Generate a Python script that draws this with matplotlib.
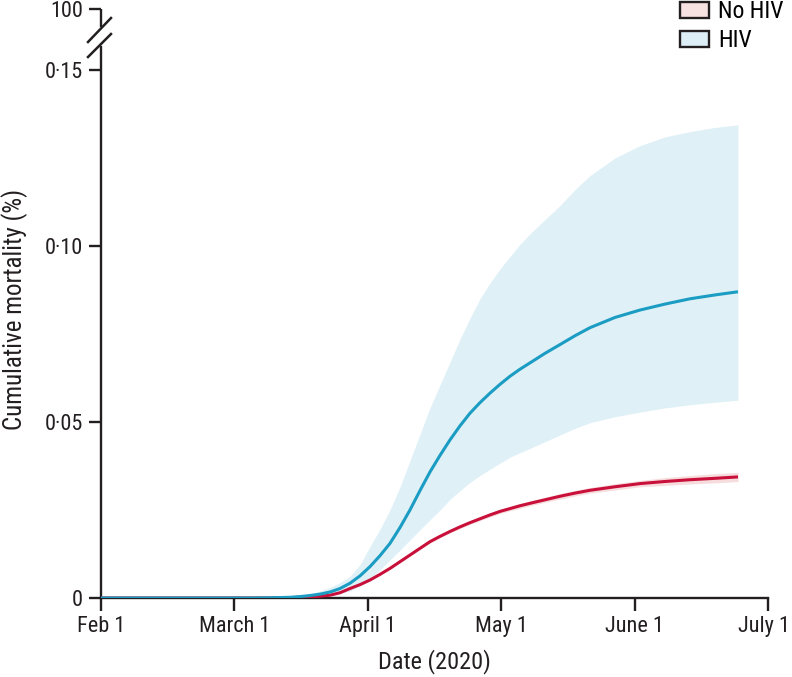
import matplotlib
matplotlib.use("Agg")
import matplotlib.pyplot as plt
import matplotlib.transforms as mtransforms
from matplotlib.patches import Patch
from matplotlib.lines import Line2D
from matplotlib import font_manager as fm

available = {f.name for f in fm.fontManager.ttflist}
candidates = ['Roboto Condensed', 'Liberation Sans Narrow', 'PT Sans Narrow',
              'Archivo Narrow', 'Open Sans Condensed', 'Lato']
fams = [c for c in candidates if c in available] + ['DejaVu Sans']
plt.rcParams['font.family'] = fams

# x positions in months since Feb 1, 2020 (ticks are evenly spaced per month)
months = [0, 1.117, 1.267, 1.417, 1.492, 1.567, 1.642, 1.717, 1.792, 1.867,
          1.942, 2.016, 2.091, 2.166, 2.241, 2.316, 2.391, 2.466, 2.541, 2.616,
          2.691, 2.766, 2.841, 2.916, 2.991, 3.066, 3.141, 3.216, 3.328, 3.441,
          3.553, 3.666, 3.853, 4.040, 4.228, 4.415, 4.603, 4.775]

hiv_mid = [0, 0, 0.00005, 0.0002, 0.0004, 0.0007, 0.0011, 0.0017, 0.0027, 0.0042,
           0.0063, 0.0089, 0.0120, 0.0155, 0.0200, 0.0250, 0.0305, 0.0358, 0.0405, 0.0449,
           0.0489, 0.0525, 0.0555, 0.0582, 0.0607, 0.0630, 0.0650, 0.0668, 0.0695, 0.0720,
           0.0745, 0.0768, 0.0797, 0.0818, 0.0835, 0.0850, 0.0861, 0.0870]
hiv_hi = [0, 0, 0.0001, 0.0004, 0.0007, 0.0012, 0.0020, 0.0030, 0.0044, 0.0062,
          0.0095, 0.0146, 0.0195, 0.0250, 0.0315, 0.0390, 0.0465, 0.0540, 0.0605, 0.0670,
          0.0735, 0.0795, 0.0850, 0.0895, 0.0935, 0.0970, 0.1005, 0.1035, 0.1075, 0.1115,
          0.1160, 0.1200, 0.1250, 0.1285, 0.1310, 0.1325, 0.1337, 0.1344]
hiv_lo = [0, 0, 0, 0.0001, 0.0002, 0.0003, 0.0005, 0.0008, 0.0013, 0.0020,
          0.0035, 0.0055, 0.0080, 0.0108, 0.0136, 0.0165, 0.0194, 0.0222, 0.0250, 0.0280,
          0.0305, 0.0328, 0.0348, 0.0366, 0.0383, 0.0400, 0.0413, 0.0425, 0.0444, 0.0463,
          0.0482, 0.0498, 0.0515, 0.0528, 0.0540, 0.0549, 0.0556, 0.0562]

nohiv_mid = [0, 0, 0, 0.0001, 0.0002, 0.0003, 0.0005, 0.0008, 0.0015, 0.0027,
             0.0038, 0.0051, 0.0067, 0.0084, 0.0103, 0.0122, 0.0141, 0.0160, 0.0175, 0.0189,
             0.0202, 0.0214, 0.0225, 0.0236, 0.0246, 0.0254, 0.0262, 0.0269, 0.0279, 0.0289,
             0.0298, 0.0306, 0.0316, 0.0325, 0.0331, 0.0336, 0.0340, 0.0344]
nohiv_hi = [0, 0, 0, 0.0001, 0.00025, 0.00035, 0.00055, 0.00085, 0.0016, 0.0028,
            0.0039, 0.0053, 0.0069, 0.0086, 0.0106, 0.0125, 0.0144, 0.0164, 0.0179, 0.0193,
            0.0207, 0.0219, 0.0230, 0.0242, 0.0252, 0.0260, 0.0269, 0.0276, 0.0286, 0.0297,
            0.0306, 0.0314, 0.0325, 0.0334, 0.0342, 0.0348, 0.0353, 0.0357]
nohiv_lo = [0, 0, 0, 0.0001, 0.00015, 0.00025, 0.00045, 0.00075, 0.0014, 0.0026,
            0.0037, 0.0049, 0.0065, 0.0082, 0.0100, 0.0119, 0.0138, 0.0156, 0.0171, 0.0185,
            0.0197, 0.0209, 0.0220, 0.0230, 0.0240, 0.0248, 0.0255, 0.0262, 0.0272, 0.0281,
            0.0290, 0.0298, 0.0307, 0.0316, 0.0320, 0.0324, 0.0327, 0.0331]

xtick_pos = [0, 1, 2, 3, 4, 5]
xtick_labels = ["Feb 1", "March 1", "April 1", "May 1", "June 1", "July 1"]
ytick_pos = [0, 0.05, 0.10, 0.15]
ytick_labels = ["0", "0\u00b705", "0\u00b710", "0\u00b715"]
top_label = "100"

BLUE = "#1a9cc3"
BLUE_BAND = "#dff0f7"
RED = "#c8103a"
RED_BAND = "#f6dcdc"
INK = "#231f20"

W, H = 792, 677
fig = plt.figure(figsize=(W / 100, H / 100), dpi=100)
ax = fig.add_axes([101 / W, 79 / H, 667 / W, 589 / H])

ymax = 589 / 3520.0
ax.set_xlim(0, 5)
ax.set_ylim(0, ymax)

ax.fill_between(months, hiv_lo, hiv_hi, color=BLUE_BAND, lw=0, zorder=1)
ax.fill_between(months, nohiv_lo, nohiv_hi, color=RED_BAND, lw=0, zorder=2)
ax.plot(months, nohiv_mid, color=RED, lw=2.2, zorder=3, solid_capstyle='butt')
ax.plot(months, hiv_mid, color=BLUE, lw=2.2, zorder=4, solid_capstyle='butt')

for s in ['top', 'right']:
    ax.spines[s].set_visible(False)
for s in ['left', 'bottom']:
    ax.spines[s].set_linewidth(1.7)
    ax.spines[s].set_color(INK)

gap_lo = (598 - 47) / 3520.0
gap_hi = (598 - 27) / 3520.0
ax.spines['left'].set_bounds(0, gap_lo)
ax.plot([0, 0], [gap_hi, ymax], color=INK, lw=1.7, clip_on=False,
        zorder=5, solid_capstyle='butt')

ax.set_xticks(xtick_pos)
ax.set_xticklabels(xtick_labels)
ax.set_yticks(ytick_pos + [ymax])
ax.set_yticklabels(ytick_labels + [top_label])
ax.tick_params(axis='both', direction='out', length=9, width=1.7, color=INK,
               labelsize=16, labelcolor=INK)
ax.tick_params(axis='x', pad=4)
ax.tick_params(axis='y', pad=4)

# nudge the last x tick label so it stays inside the figure
last = ax.get_xticklabels()[-1]
last.set_transform(last.get_transform() +
                   mtransforms.ScaledTranslation(-4 / 100, 0, fig.dpi_scale_trans))

# axis break marks (figure pixel coordinates)
for (x0, y0, x1, y1) in [(88, 42, 111, 18), (88, 57, 111, 34)]:
    fig.add_artist(Line2D([x0 / W, x1 / W], [1 - y0 / H, 1 - y1 / H],
                          color=INK, lw=1.8, transform=fig.transFigure))

ax.set_xlabel("Date (2020)", fontsize=17.5, color=INK, labelpad=9)
ax.set_ylabel("Cumulative mortality (%)", fontsize=18, color=INK)
ax.yaxis.set_label_coords(-73 / 667, (598 - 309) / 589)

handles = [Patch(facecolor="#f7e1e1", edgecolor=INK, lw=1.7, label="No HIV"),
           Patch(facecolor="#deeef6", edgecolor=INK, lw=1.7, label="HIV")]
fig.legend(handles=handles, loc='upper left', bbox_to_anchor=(680 / W, 1.0),
           frameon=False, fontsize=17, handlelength=1.23, handleheight=0.68,
           handletextpad=0.38, labelspacing=0.27, borderaxespad=0, borderpad=0)

fig.savefig("out.png", dpi=100)
